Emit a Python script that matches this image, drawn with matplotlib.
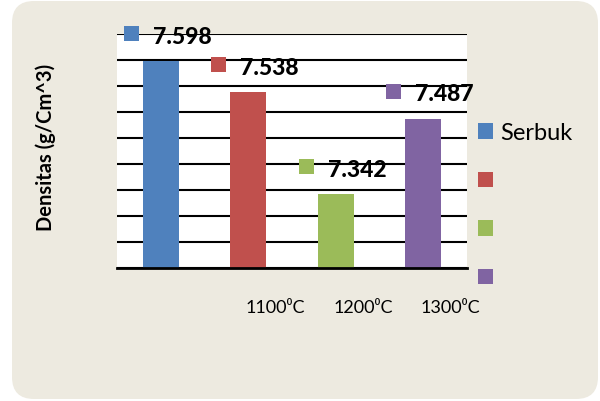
import matplotlib
matplotlib.use('Agg')
import matplotlib.pyplot as plt
import numpy as np
from matplotlib.patches import FancyBboxPatch, Patch
from matplotlib.transforms import IdentityTransform, offset_copy

categories = ["", "1100⁰C", "1200⁰C", "1300⁰C"]
values = [7.598, 7.538, 7.342, 7.487]
value_labels = ["7.598", "7.538", "7.342", "7.487"]
legend_labels = ["Serbuk", " ", " ", " "]
colors = ["#4F81BD", "#C0504D", "#9BBB59", "#8064A2"]
y_label = "Densitas (g/Cm^3)"
y_min, y_max, y_step = 7.2, 7.65, 0.05

plt.rcParams['font.family'] = ['Lato', 'DejaVu Sans']

fig = plt.figure(figsize=(6, 4.02), dpi=100)
fig.patch.set_facecolor('white')
bg = FancyBboxPatch((12, 2), 586, 398, boxstyle='round,pad=0,rounding_size=22',
                    transform=IdentityTransform(), facecolor='#EDEAE0',
                    edgecolor='none', zorder=-5)
fig.patches.append(bg)

ax = fig.add_axes([117/600, 133/402, 350/600, 234/402])
ax.set_zorder(1)
ax.set_facecolor('white')
x = np.arange(len(values))
ax.bar(x, [v - y_min for v in values], bottom=y_min, width=0.41, color=colors, zorder=3)
ax.set_xlim(-0.5, len(values) - 0.5)
ax.set_ylim(y_min, y_max)
ax.set_yticks(np.arange(y_min, y_max + 1e-9, y_step))
ax.set_axisbelow(True)
ax.yaxis.grid(True, color='black', linewidth=1.5)
ax.tick_params(axis='y', length=0, labelleft=False)
for s in ['left', 'right', 'top']:
    ax.spines[s].set_visible(False)
ax.spines['bottom'].set_color('black')
ax.spines['bottom'].set_linewidth(2.0)
ax.spines['bottom'].set_zorder(4)

ax.set_xticks(x + 0.31)
ax.set_xticklabels(categories, fontsize=13)
ax.tick_params(axis='x', length=0, pad=22)

for i in range(len(values)):
    ax.plot([x[i]], [values[i]], marker='s', markersize=15 * 0.72, color=colors[i],
            markeredgewidth=0, linestyle='none', clip_on=False, zorder=5,
            transform=offset_copy(ax.transData, fig=fig, x=-30, y=28, units='dots'))
    ax.annotate(value_labels[i], (x[i], values[i]), xytext=(-8, 18.5),
                textcoords='offset pixels', ha='left', va='baseline',
                fontweight=900, fontsize=16.5, annotation_clip=False, zorder=6)

handles = [Patch(facecolor=c, edgecolor='none') for c in colors]
fig.legend(handles=handles, labels=legend_labels, loc='upper left',
           bbox_to_anchor=(478/600, 1 - 123/402), frameon=False, fontsize=17,
           borderpad=0, borderaxespad=0, handlelength=0.64, handleheight=0.64,
           handletextpad=0.3, labelspacing=1.17)

fig.text(46/600, 1 - 147/402, y_label, rotation=90, ha='center', va='center',
         fontweight='bold', fontsize=14.5)

fig.savefig('out.png', dpi=100, facecolor='white')
